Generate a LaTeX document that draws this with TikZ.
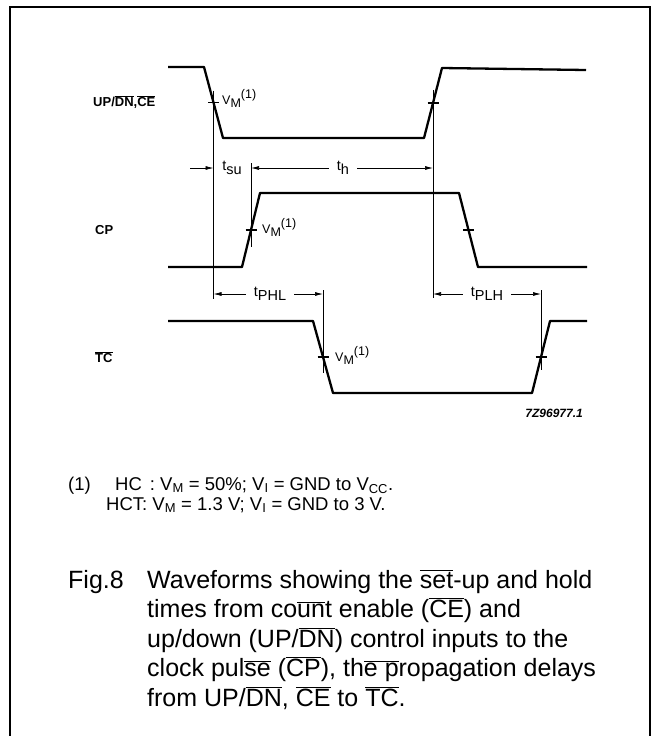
\documentclass[tikz,border=0pt]{standalone}
\usepackage{fontspec}
\setmainfont{Liberation Sans}
\usetikzlibrary{arrows.meta}

\newcommand{\ovl}[1]{$\overline{\mbox{#1}}$}
\newcommand{\lo}[1]{\raisebox{-0.28em}{#1}}
\newcommand{\hi}[1]{\raisebox{0.42em}{#1}}
\newcommand{\fsz}[1]{\fontsize{#1}{#1}\selectfont}

\begin{document}
\begin{tikzpicture}[x=1pt,y=-1pt,>={Latex[length=8pt,width=4pt]},
                    signal/.style={line width=2.3pt,line join=round},
                    guide/.style={line width=0.7pt},
                    vmtick/.style={line width=1.3pt},
                    dim/.style={->,line width=0.7pt},
                    siglabel/.style={font=\fsz{13}\bfseries,anchor=west,inner sep=0pt},
                    vmlabel/.style={font=\fsz{12.5},anchor=base west,inner sep=0pt},
                    dimlabel/.style={font=\fsz{14.5},inner xsep=8pt,inner ysep=0pt},
                    note/.style={font=\fsz{18.5},anchor=base west,inner sep=0pt},
                    captext/.style={font=\fsz{25},anchor=base west,inner sep=0pt}]
  \useasboundingbox (0,0) rectangle (657,736);
  \draw[line width=1.5pt] (10,745) -- (10,7) -- (650,7) -- (650,745);

  \coordinate (mUDa) at (213.5,102.5);
  \coordinate (mUDb) at (433,103);
  \coordinate (mCPa) at (251,230);
  \coordinate (mCPb) at (468.5,230);
  \coordinate (mTCa) at (323,357);
  \coordinate (mTCb) at (541,357);

  \draw[signal] (168,67) -- (204,67) -- (223,138) -- (424,138) -- (442,68) -- (586,70);
  \draw[signal] (168,267) -- (242,267) -- (260,193) -- (459,193) -- (478,267) -- (587,267);
  \draw[signal] (168,321) -- (313,321) -- (333,393) -- (532,393) -- (550,321) -- (587,321);

  \foreach \m in {mUDa,mUDb,mCPa,mCPb,mTCa,mTCb}
    \draw[vmtick] (\m) ++(-5.5,0) -- ++(11,0);

  \draw[guide] (mUDa) ++(0,-12) -- (mUDa |- 0,299);
  \draw[guide] (mUDb) ++(0,-13) -- (mUDb |- 0,298);
  \draw[guide] (mCPa |- 0,163) -- (mCPa |- 0,247);
  \draw[guide] (mTCa |- 0,290) -- (mTCa |- 0,373);
  \draw[guide] (mTCb |- 0,290) -- (mTCb |- 0,370);

  \node[siglabel] (ud) at (93,102) {UP/\ovl{DN},\ovl{CE}};
  \node[siglabel] (cp) at (95,230) {CP};
  \node[siglabel] (tc) at (95,357) {\ovl{TC}};

  \node[vmlabel] (vmud) at (222,104) {V\lo{M}\hi{(1)}};
  \node[vmlabel] (vmcp) at (262,233) {V\lo{M}\hi{(1)}};
  \node[vmlabel] (vmtc) at (335,361) {V\lo{M}\hi{(1)}};

  \coordinate (sutail) at (190,168);
  \draw[dim] (sutail) -- (mUDa |- sutail);
  \node[dimlabel] (tsu) at (232,168) {t\lo{su}};
  \node[dimlabel] (th) at (343,168) {t\lo{h}};
  \draw[dim] (th.west) -- (mCPa |- th.west);
  \draw[dim] (th.east) -- (mUDb |- th.east);
  \node[dimlabel] (tphl) at (270,294) {t\lo{PHL}};
  \draw[dim] (tphl.west) -- (mUDa |- tphl.west);
  \draw[dim] (tphl.east) -- (mTCa |- tphl.east);
  \node[dimlabel] (tplh) at (487,294) {t\lo{PLH}};
  \draw[dim] (tplh.west) -- (mUDb |- tplh.west);
  \draw[dim] (tplh.east) -- (mTCb |- tplh.east);

  \node[font=\fsz{12}\bfseries\itshape,anchor=east,inner sep=0pt] (code) at (583,413) {7Z96977.1};

  \node[note] (fn) at (68,490) {(1)};
  \node[note] (fn1) at (115,490) {HC\hspace{8pt}: V\textsubscript{M} = 50\%; V\textsubscript{I} = GND to V\textsubscript{CC}.};
  \node[note] (fn2) at (106,510) {HCT: V\textsubscript{M} = 1.3 V; V\textsubscript{I} = GND to 3 V.};

  \node[captext] (fig) at (68,588) {Fig.8};
  \node[captext] (cap1) at (147,588) {Waveforms showing the \ovl{set}-up and hold};
  \node[captext] (cap2) at (147,617.5) {times from co\ovl{un}t enable (\ovl{CE}) and};
  \node[captext] (cap3) at (147,647) {up/down (UP/\ovl{DN}) control inputs to the};
  \node[captext] (cap4) at (147,676.5) {clock pul\ovl{se} (\ovl{CP}), th\ovl{e p}ropagation delays};
  \node[captext] (cap5) at (147,706) {from UP/\ovl{DN}, \ovl{CE} to \ovl{TC}.};
\end{tikzpicture}
\end{document}
